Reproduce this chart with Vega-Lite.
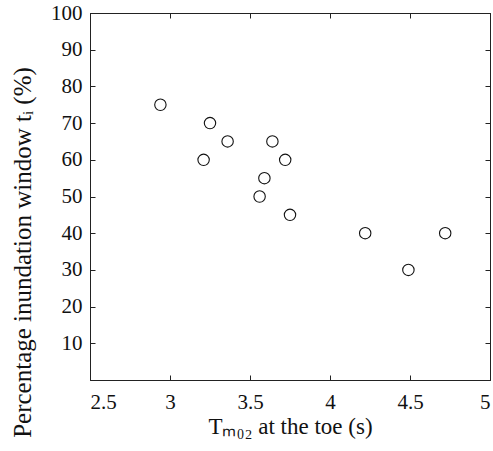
{
  "$schema": "https://vega.github.io/schema/vega-lite/v6.json",
  "width": 400,
  "height": 367,
  "autosize": {"type": "none"},
  "padding": {"left": 90, "top": 13, "right": 3, "bottom": 71},
  "background": "white",
  "config": {
    "view": {"stroke": "#222", "strokeWidth": 1},
    "font": "Times New Roman, Liberation Serif, serif",
    "axis": {
      "grid": false,
      "domainColor": "#222",
      "tickColor": "#222",
      "tickSize": -5,
      "labelFont": "Times New Roman, Liberation Serif, serif",
      "labelFontSize": 21,
      "labelColor": "#111",
      "titleFont": "Times New Roman, Liberation Serif, serif",
      "titleFontSize": 22,
      "titleFontWeight": "normal",
      "titleColor": "#111"
    }
  },
  "data": {
    "values": [
      {"T": 2.94, "p": 75},
      {"T": 3.25, "p": 70},
      {"T": 3.36, "p": 65},
      {"T": 3.64, "p": 65},
      {"T": 3.21, "p": 60},
      {"T": 3.72, "p": 60},
      {"T": 3.59, "p": 55},
      {"T": 3.56, "p": 50},
      {"T": 3.75, "p": 45},
      {"T": 4.22, "p": 40},
      {"T": 4.72, "p": 40},
      {"T": 4.49, "p": 30}
    ]
  },
  "resolve": {"axis": {"x": "independent", "y": "independent"}},
  "layer": [
    {
      "mark": {"type": "point", "shape": "circle", "filled": false, "color": "#111", "size": 130, "strokeWidth": 1.1, "opacity": 1},
      "encoding": {
        "x": {
          "field": "T", "type": "quantitative",
          "scale": {"domain": [2.5, 5], "nice": false, "zero": false},
          "axis": {"values": [2.5, 3, 3.5, 4, 4.5, 5], "format": "~g", "labelFontSize": 21, "labelPadding": 16, "title": "Tₘ₀₂ at the toe (s)", "titleFontSize": 23, "titlePadding": 3}
        },
        "y": {
          "field": "p", "type": "quantitative",
          "scale": {"domain": [0, 100], "nice": false},
          "axis": {"values": [10, 20, 30, 40, 50, 60, 70, 80, 90, 100], "labelFontSize": 21, "labelPadding": 13, "title": "Percentage inundation window tᵢ (%)", "titleFontSize": 25, "titlePadding": 15, "titleY": 239}
        }
      }
    },
    {
      "mark": {"type": "point", "opacity": 0},
      "encoding": {
        "x": {
          "field": "T", "type": "quantitative",
          "scale": {"domain": [2.5, 5], "nice": false, "zero": false},
          "axis": {"orient": "top", "values": [2.5, 3, 3.5, 4, 4.5, 5], "labels": false, "title": null}
        },
        "y": {
          "field": "p", "type": "quantitative",
          "scale": {"domain": [0, 100], "nice": false},
          "axis": {"orient": "right", "values": [10, 20, 30, 40, 50, 60, 70, 80, 90, 100], "labels": false, "title": null}
        }
      }
    }
  ]
}
